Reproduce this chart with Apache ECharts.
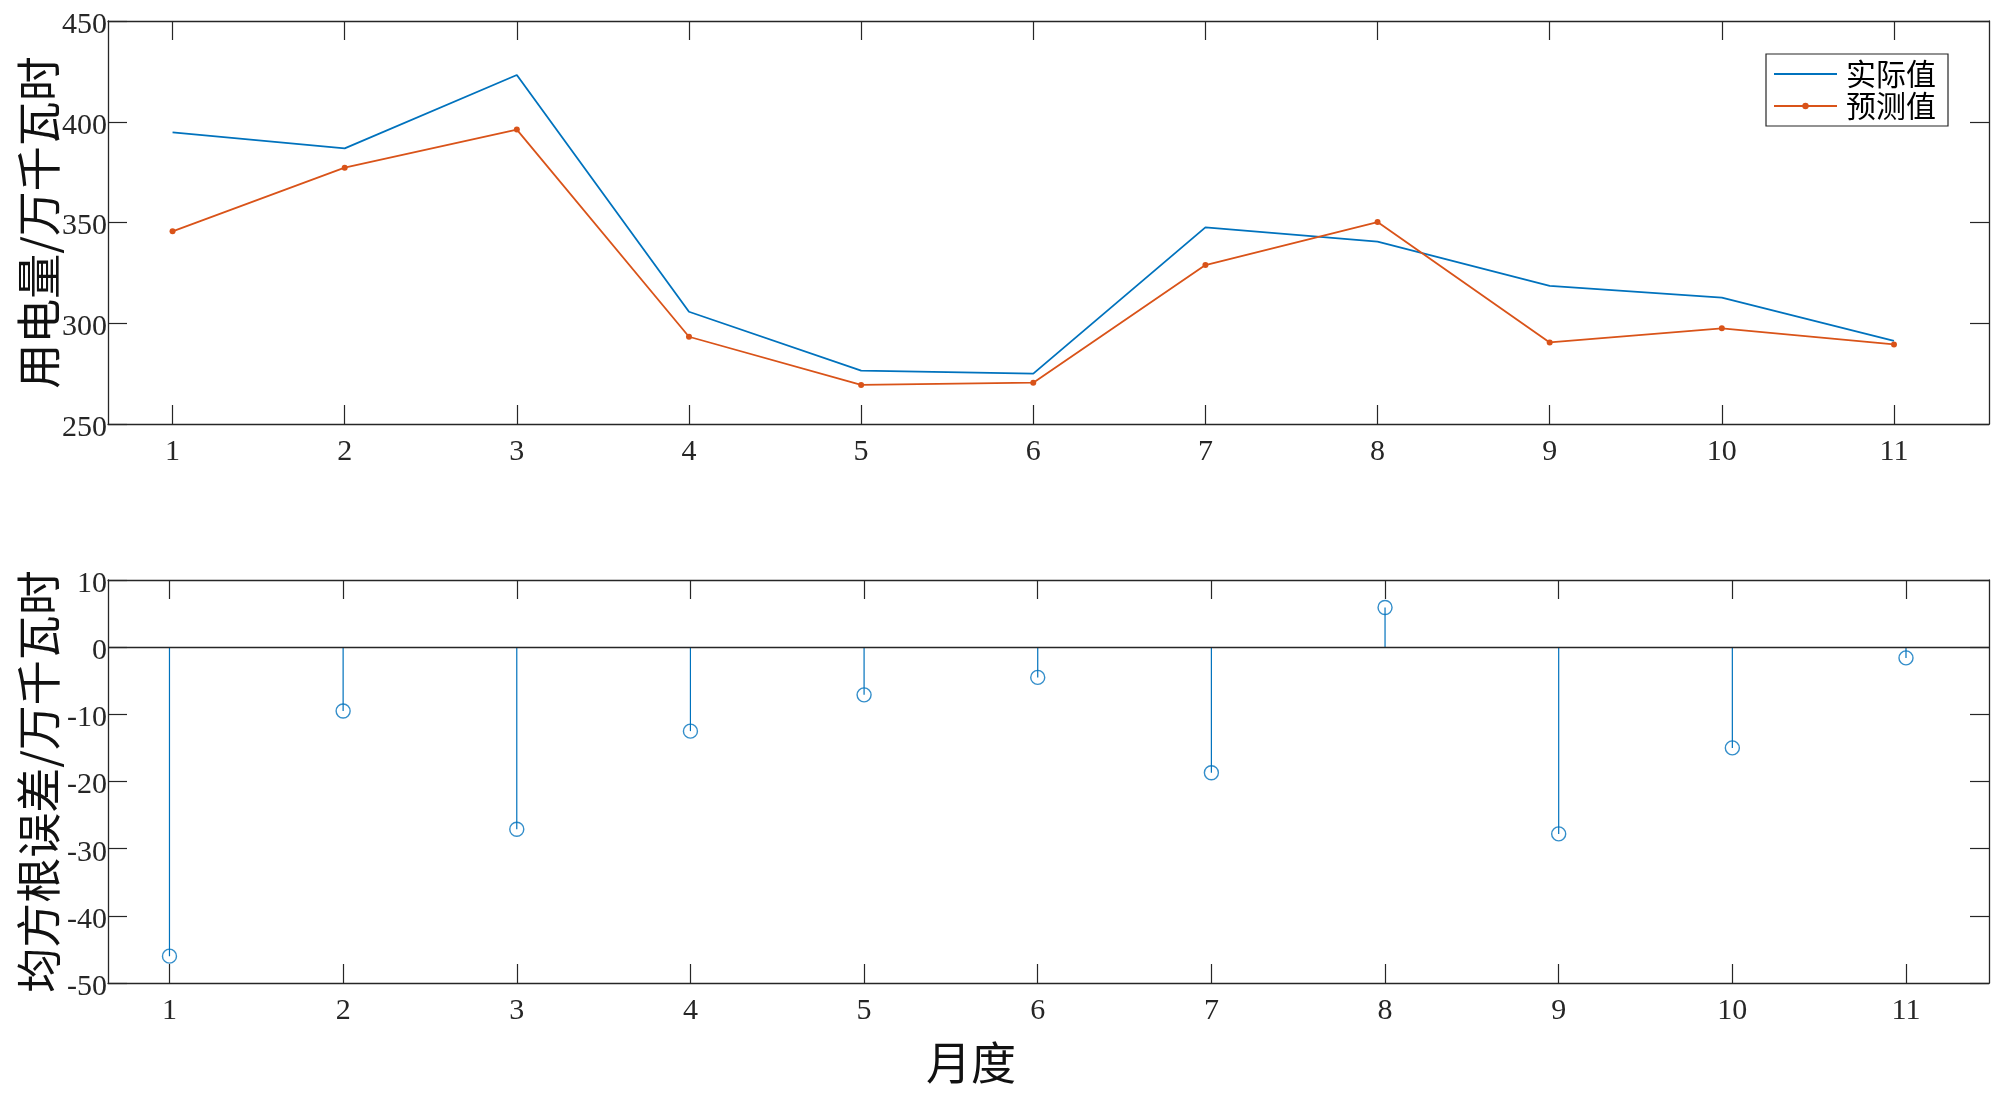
<!DOCTYPE html>
<html>
<head>
<meta charset="utf-8">
<script src="https://cdn.jsdelivr.net/npm/echarts@6.0.0/dist/echarts.min.js"></script>
<style>
  html, body { margin: 0; padding: 0; background: #fff; }
  #main { width: 2000px; height: 1108px; }
</style>
</head>
<body>
<div id="main"></div>
<script>
// 月度
var months = [1, 2, 3, 4, 5, 6, 7, 8, 9, 10, 11];
// 用电量 (万千瓦时)
var actual = [394.7, 386.8, 423.2, 305.7, 276.5, 275.0, 347.6, 340.5, 318.5, 312.7, 291.2];
var forecast = [345.6, 377.2, 396.1, 293.3, 269.4, 270.5, 328.9, 350.2, 290.5, 297.5, 289.5];
// 误差
var errors = [-46.0, -9.5, -27.1, -12.5, -7.1, -4.5, -18.7, 5.9, -27.8, -15.0, -1.6];

var axisColor = '#262626';
var numFont = 'Liberation Serif';
var cjkFont = 'Noto Sans CJK SC';

function pairs(ys) {
  return months.map(function (m, i) { return [m, ys[i]]; });
}

// 下方 x 轴 + 上方只画刻度的 x 轴
function xAxes(gridIndex, min, max, labelMargin) {
  var base = {
    type: 'value', gridIndex: gridIndex, min: min, max: max,
    splitLine: { show: false },
    axisLine: { show: true, onZero: false, lineStyle: { color: axisColor, width: 1.3 } },
    axisTick: { show: true, inside: true, length: 19, customValues: months, lineStyle: { color: axisColor, width: 1.2 } }
  };
  var bottom = Object.assign({}, base, {
    position: 'bottom',
    axisLabel: { show: true, customValues: months, margin: labelMargin, fontFamily: numFont, fontSize: 30, color: axisColor }
  });
  var top = Object.assign({}, base, { position: 'top', axisLabel: { show: false } });
  return [bottom, top];
}

function yAxes(gridIndex, min, max, interval, name, nameGap) {
  var base = {
    type: 'value', gridIndex: gridIndex, min: min, max: max, interval: interval,
    splitLine: { show: false },
    axisLine: { show: true, onZero: false, lineStyle: { color: axisColor, width: 1.3 } },
    axisTick: { show: true, inside: true, length: 19, lineStyle: { color: axisColor, width: 1.2 } }
  };
  var left = Object.assign({}, base, {
    position: 'left',
    name: name, nameLocation: 'middle', nameRotate: 90, nameGap: nameGap, nameMoveOverlap: false,
    nameTextStyle: { fontFamily: cjkFont, fontSize: 45, color: '#111' },
    axisLabel: { show: true, margin: 1, fontFamily: numFont, fontSize: 30, color: axisColor, verticalAlign: 'top', lineHeight: 8 }
  });
  var right = Object.assign({}, base, { position: 'right', axisLabel: { show: false } });
  return [left, right];
}

var myChart = echarts.init(document.getElementById('main'));
var option = {
  animation: false,
  backgroundColor: '#fff',
  grid: [
    { left: 108, top: 21, width: 1881, height: 403 },
    { left: 108, top: 580, width: 1881, height: 403 }
  ],
  xAxis: xAxes(0, 0.625, 11.552, 13).concat(xAxes(1, 0.646, 11.478, 13)),
  yAxis: yAxes(0, 250, 450, 50, '用电量/万千瓦时', 47).concat(yAxes(1, -50, 10, 10, '均方根误差/万千瓦时', 47)),
  legend: {
    // 实际值图例只画线，不画点
    data: [{ name: '实际值', itemStyle: { opacity: 0 } }, '预测值'],
    orient: 'vertical',
    left: 1766,
    top: 54,
    padding: [5, 12, 5, 7],
    itemGap: 2,
    itemWidth: 63,
    itemHeight: 8,
    backgroundColor: '#fff',
    borderColor: axisColor,
    borderWidth: 1.2,
    borderRadius: 0,
    textStyle: { fontFamily: cjkFont, fontSize: 30, color: '#000', lineHeight: 30, padding: [0, 0, 0, 4] }
  },
  graphic: [{
    type: 'text',
    x: 971, y: 1063,
    style: { text: '月度', font: '45px "Noto Sans CJK SC"', fill: '#111', align: 'center', verticalAlign: 'middle' }
  }],
  series: [
    {
      name: '实际值',
      type: 'line',
      xAxisIndex: 0, yAxisIndex: 0,
      data: pairs(actual),
      symbol: 'none',
      lineStyle: { color: '#0072BD', width: 1.8 },
      itemStyle: { color: '#0072BD' }
    },
    {
      name: '预测值',
      type: 'line',
      xAxisIndex: 0, yAxisIndex: 0,
      data: pairs(forecast),
      symbol: 'circle',
      symbolSize: 6,
      lineStyle: { color: '#D95319', width: 1.8 },
      itemStyle: { color: '#D95319' }
    },
    {
      // 茎线
      type: 'custom',
      xAxisIndex: 2, yAxisIndex: 2,
      data: pairs(errors),
      encode: { x: 0, y: 1 },
      renderItem: function (params, api) {
        var p0 = api.coord([api.value(0), 0]);
        var p1 = api.coord([api.value(0), api.value(1)]);
        return {
          type: 'line',
          shape: { x1: p0[0], y1: p0[1], x2: p1[0], y2: p1[1] },
          style: { stroke: '#0072BD', lineWidth: 1.2 }
        };
      }
    },
    {
      type: 'scatter',
      xAxisIndex: 2, yAxisIndex: 2,
      data: pairs(errors),
      symbol: 'circle',
      symbolSize: 14,
      itemStyle: { color: 'rgba(0,0,0,0)', borderColor: '#0072BD', borderWidth: 1.4 },
      markLine: {
        silent: true,
        symbol: 'none',
        label: { show: false },
        lineStyle: { color: axisColor, width: 1.3, type: 'solid' },
        data: [{ yAxis: 0 }]
      }
    }
  ]
};
myChart.setOption(option);
</script>
</body>
</html>
